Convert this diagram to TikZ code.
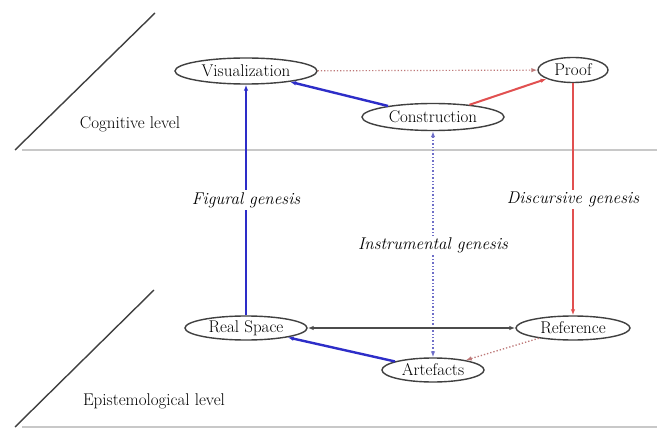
\documentclass[tikz,border=0pt]{standalone}
\usetikzlibrary{shapes.geometric,arrows.meta}
\definecolor{myblue}{RGB}{45,45,200}
\definecolor{myred}{RGB}{225,80,80}
\definecolor{dotred}{RGB}{190,120,120}
\definecolor{dotblue}{RGB}{110,110,200}
\definecolor{planegray}{RGB}{200,200,200}
\begin{document}
\begin{tikzpicture}[x=1pt,y=-1pt,
  every node/.style={font=\fontsize{17}{20}\selectfont},
  ell/.style={ellipse,draw=black!75,line width=1.4pt,inner sep=0pt,fill=white},
  lab/.style={fill=white,inner sep=2pt,font=\fontsize{17}{20}\selectfont\itshape},
  tip/.style={-{Latex[length=6pt,width=4.5pt]}},
  tips/.style={{Latex[length=6pt,width=4.5pt]}-{Latex[length=6pt,width=4.5pt]}},
  plane/.style={draw=black!75,line width=1.4pt},
  sep/.style={draw=planegray,line width=2pt}
]
\useasboundingbox[fill=white] (0,0) rectangle (657,428);
% planes
\coordinate (t1) at (15,150);
\coordinate (t2) at (155,13);
\coordinate (h1) at (22,150);
\coordinate (h2) at (657,150);
\coordinate (b1) at (15,427);
\coordinate (b2) at (154,290);
\coordinate (g1) at (22,427);
\coordinate (g2) at (657,427);
\draw[sep] (h1) -- (h2);
\draw[sep] (g1) -- (g2);
\draw[plane] (t1) -- (t2);
\draw[plane] (b1) -- (b2);
\node (cog) at (130,124) {Cognitive level};
\node (epi) at (154,401) {Epistemological level};
% nodes
\node[ell,minimum width=142pt,minimum height=26pt] (vis) at (246,71) {Visualization};
\node[ell,minimum width=70pt,minimum height=25pt] (proof) at (573,70) {Proof};
\node[ell,minimum width=142pt,minimum height=27pt] (con) at (433,117) {Construction};
\node[ell,minimum width=122pt,minimum height=24pt] (real) at (246,328) {Real Space};
\node[ell,minimum width=114pt,minimum height=24pt] (ref) at (573,328) {Reference};
\node[ell,minimum width=102pt,minimum height=24pt] (art) at (433,370) {Artefacts};
% connectors
\draw[tip,dotred,line width=1.2pt,dotted] (vis) -- (proof);
\draw[tip,myblue,line width=2.4pt] (con) -- (vis);
\draw[tip,myred,line width=2pt] (con) -- (proof);
\draw[tip,myblue,line width=2pt] (real) -- node[lab,pos=0.5,text=black] (fig) {Figural genesis} (vis);
\draw[tip,myred,line width=1.8pt] (proof) -- node[lab,pos=0.5,text=black] (dis) {Discursive genesis} (ref);
\draw[tips,dotblue,line width=1.4pt,dotted] (art) -- node[lab,pos=0.495,text=black] (ins) {Instrumental genesis} (con);
\draw[tips,black!70,line width=1.6pt] (real) -- (ref);
\draw[tip,myblue,line width=2.4pt] (art) -- (real);
\draw[tip,dotred,line width=1.3pt,dotted] (ref) -- (art);
\end{tikzpicture}
\end{document}
